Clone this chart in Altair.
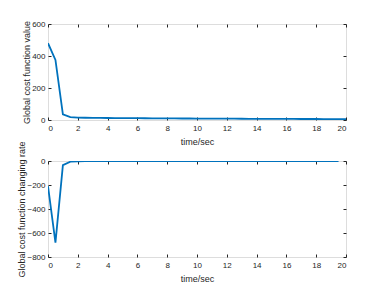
import altair as alt
import pandas as pd

t_cost = [0, 0.5, 1, 1.5, 2, 2.5, 3, 3.5, 4, 4.5, 5, 5.5, 6, 6.5, 7, 7.5, 8, 8.5, 9, 9.5,
          10, 10.5, 11, 11.5, 12, 12.5, 13, 13.5, 14, 14.5, 15, 15.5, 16, 16.5, 17, 17.5,
          18, 18.5, 19, 19.5, 20]
cost = [480, 375, 35, 18, 15, 14, 13.5, 13, 12.6, 12.2, 11.8, 11.5, 11.2, 10.9, 10.6,
        10.3, 10.0, 9.8, 9.5, 9.3, 9.0, 8.8, 8.6, 8.4, 8.2, 8.0, 7.8, 7.6, 7.4, 7.2, 7.0,
        6.9, 6.7, 6.6, 6.4, 6.3, 6.1, 6.0, 5.8, 5.7, 5.5]

t_rate = [0, 0.5, 1, 1.5, 2, 2.5, 3, 3.5, 4, 4.5, 5, 5.5, 6, 6.5, 7, 7.5, 8, 8.5, 9, 9.5,
          10, 10.5, 11, 11.5, 12, 12.5, 13, 13.5, 14, 14.5, 15, 15.5, 16, 16.5, 17, 17.5,
          18, 18.5, 19, 19.5]
rate = [-210, -680, -34, -6, -2, -1, -1, -0.8, -0.8, -0.8, -0.6, -0.6, -0.6, -0.6, -0.6,
        -0.6, -0.4, -0.6, -0.4, -0.6, -0.4, -0.4, -0.4, -0.4, -0.4, -0.4, -0.4, -0.4,
        -0.4, -0.4, -0.2, -0.4, -0.2, -0.4, -0.2, -0.4, -0.2, -0.4, -0.2, -0.2]

x_ticks = [0, 2, 4, 6, 8, 10, 12, 14, 16, 18, 20]
cost_ticks = [0, 200, 400, 600]
rate_ticks = [-800, -600, -400, -200, 0]

FONT = "Liberation Sans"
AX = "#262626"
LINE = "#0072BD"
TL = 3


def panel(df, ycol, ydom, yticks, ytitle):
    base = alt.Chart(df)
    xs = alt.Scale(domain=[0, 20], nice=False, zero=False)
    ys = alt.Scale(domain=ydom, nice=False, zero=False)
    main = base.mark_line(color=LINE, strokeWidth=1.8, clip=True).encode(
        x=alt.X("t:Q", scale=xs, axis=alt.Axis(
            values=x_ticks, title="time/sec", orient="bottom", offset=-TL, tickSize=TL,
            domain=False, grid=False, labelPadding=4, titlePadding=5,
            tickColor=AX, labelColor=AX, titleColor=AX, labelFont=FONT, titleFont=FONT,
            labelFontSize=8, titleFontSize=9, titleFontWeight="normal", format="d")),
        y=alt.Y(f"{ycol}:Q", scale=ys, axis=alt.Axis(
            values=yticks, title=ytitle, orient="left", offset=-TL, tickSize=TL,
            domain=False, grid=False, labelPadding=3, titlePadding=0,
            tickColor=AX, labelColor=AX, titleColor=AX, labelFont=FONT, titleFont=FONT,
            labelFontSize=8, titleFontSize=9, titleFontWeight="normal", format="d")),
    )
    ghost = base.mark_line(strokeOpacity=0).encode(
        x=alt.X("t:Q", scale=xs, axis=alt.Axis(
            values=x_ticks, title=None, orient="top", offset=-TL, tickSize=TL,
            domain=False, grid=False, labels=False, tickColor=AX)),
        y=alt.Y(f"{ycol}:Q", scale=ys, axis=alt.Axis(
            values=yticks, title=None, orient="right", offset=-TL, tickSize=TL,
            domain=False, grid=False, labels=False, tickColor=AX)),
    )
    return alt.layer(main, ghost).resolve_axis(x="independent", y="independent").properties(
        width=298, height=96)


df1 = pd.DataFrame({"t": t_cost, "v": cost})
df2 = pd.DataFrame({"t": t_rate, "v": rate})

top = panel(df1, "v", [0, 600], cost_ticks, "Global cost function value")
bottom = panel(df2, "v", [-800, 0], rate_ticks, "Global cost function changing rate")

chart = alt.vconcat(top, bottom, spacing=41, bounds="flush").properties(
    padding={"left": 9, "top": 11, "right": 5, "bottom": 5}
).configure_view(stroke="#6e6e6e", strokeWidth=1).configure(background="white")

chart.save("out.html", embed_options={"renderer": "svg", "actions": False})
